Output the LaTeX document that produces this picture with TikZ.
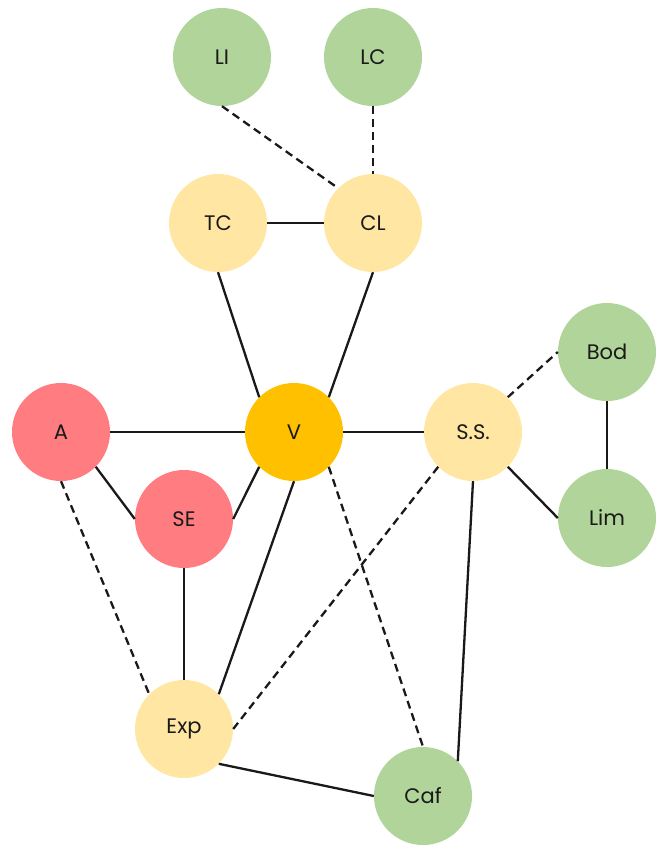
\documentclass[tikz,border=0pt]{standalone}
\usepackage{fontspec}
\setmainfont{Poppins}
\usepackage{xcolor}
\usetikzlibrary{positioning}
\definecolor{leafgreen}{HTML}{B0D49A}
\definecolor{paleyellow}{HTML}{FFE7A3}
\definecolor{amber}{HTML}{FFC000}
\definecolor{salmon}{HTML}{FF7C80}
\begin{document}
\begin{tikzpicture}[
  x=1pt, y=-1pt,
  font=\fontsize{21}{24}\selectfont,
  vertex/.style={circle, minimum size=98pt, inner sep=0pt, text=black!90},
  grn/.style={vertex, fill=leafgreen},
  ylw/.style={vertex, fill=paleyellow},
  org/.style={vertex, fill=amber},
  red/.style={vertex, fill=salmon},
  link/.style={line width=2.3pt, black!90},
  weak/.style={link, dash pattern=on 8pt off 5pt}
]
\useasboundingbox (0,0) rectangle (656,847);
% top row
\node[grn] (LI) at (222,57) {LI};
\node[grn] (LC) at (373,57) {LC};
\node[ylw] (TC) at (218,223) {TC};
\node[ylw] (CL) at (373,223) {CL};
% middle band
\node[red] (A) at (61,432) {A};
\node[org] (V) at (294,432) {V};
\node[ylw] (SS) at (473,432) {S.S.};
\node[red] (SE) at (184,519) {SE};
\node[grn] (Bod) at (607,352) {Bod};
\node[grn] (Lim) at (607,518) {Lim};
% bottom
\node[ylw] (Exp) at (184,729) {Exp};
\node[grn] (Caf) at (423,796) {Caf};
% solid ties
\draw[link] (TC.east) -- (CL.west); \draw[link] (TC.south) -- (V.135); \draw[link] (CL.south) -- (V.45);
\draw[link] (A.east) -- (V.west); \draw[link] (A.-45) -- (SE.west); \draw[link] (SE.east) -- (V.225);
\draw[link] (V.east) -- (SS.west); \draw[link] (SS.-45) -- (Lim.west); \draw[link] (Bod.south) -- (Lim.north);
\draw[link] (SE.south) -- (Exp.north); \draw[link] (V.south) -- (Exp.45);
\draw[link] (Exp.-45) -- (Caf.west); \draw[link] (SS.south) -- (Caf.45);
% dashed ties
\draw[weak] (LI.south) -- (CL.135); \draw[weak] (LC.south) -- (CL.north);
\draw[weak] (SS.45) -- (Bod.west); \draw[weak] (A.south) -- (Exp.135);
\draw[weak] (SS.225) -- (Exp.east); \draw[weak] (V.-45) -- (Caf.north);
\end{tikzpicture}
\end{document}
